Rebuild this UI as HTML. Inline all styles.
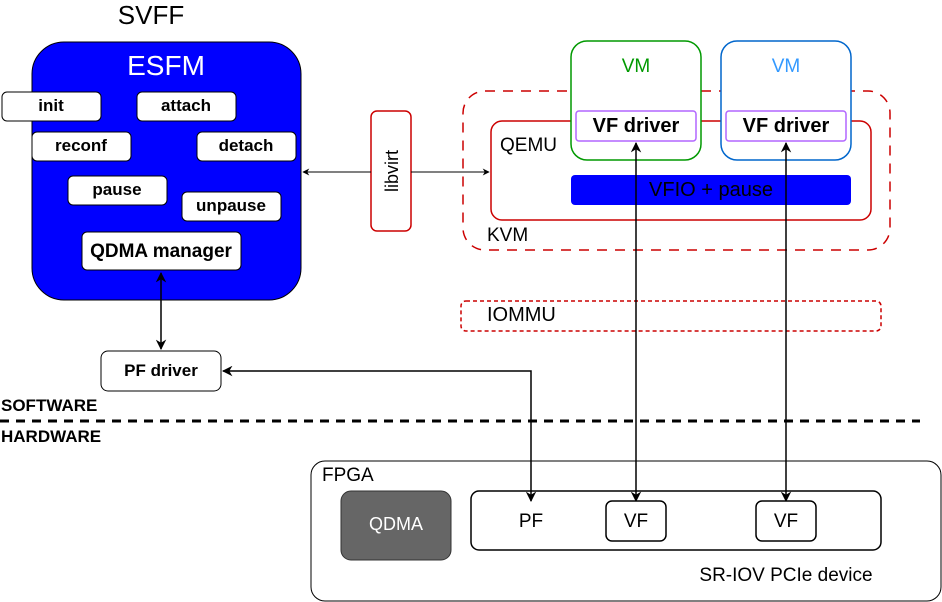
<!DOCTYPE html>
<html><head><meta charset="utf-8"><style>html,body{margin:0;padding:0;background:#fff}svg{display:block}text{font-family:"Liberation Sans",sans-serif}</style></head>
<body>
<svg width="942" height="602" viewBox="0 0 942 602" xmlns="http://www.w3.org/2000/svg">
<defs>
<marker id="a" viewBox="0 0 10 10" refX="9" refY="5" markerWidth="7" markerHeight="7" orient="auto-start-reverse"><path d="M0,0 L10,5 L0,10 L3,5 z" fill="#000"/></marker>
</defs>
<text x="151" y="24" font-size="26" text-anchor="middle">SVFF</text>
<rect x="32" y="42" width="269" height="258" rx="32" fill="#0000FF" stroke="#000"/>
<text x="166" y="75" font-size="28" fill="#fff" text-anchor="middle">ESFM</text>
<g fill="#fff" stroke="#000" stroke-width="1">
<rect x="2" y="92" width="99" height="29" rx="5"/>
<rect x="137" y="92" width="99" height="29" rx="5"/>
<rect x="32" y="132" width="99" height="29" rx="5"/>
<rect x="197" y="132" width="99" height="29" rx="5"/>
<rect x="68" y="176" width="99" height="29" rx="5"/>
<rect x="182" y="192" width="99" height="29" rx="5"/>
<rect x="82" y="232" width="159" height="38" rx="5"/>
</g>
<g font-size="17" font-weight="bold" text-anchor="middle">
<text x="51" y="111">init</text>
<text x="186" y="111">attach</text>
<text x="81" y="151">reconf</text>
<text x="246" y="151">detach</text>
<text x="117" y="195">pause</text>
<text x="231" y="211">unpause</text>
<text x="161" y="257" font-size="19">QDMA manager</text>
</g>
<rect x="463" y="91" width="427" height="159" rx="22" fill="none" stroke="#CC0000" stroke-width="1.5" stroke-dasharray="10,8"/>
<text x="487" y="241" font-size="19">KVM</text>
<rect x="491" y="121" width="380" height="99" rx="11" fill="none" stroke="#CC0000" stroke-width="1.5"/>
<text x="500" y="151" font-size="19">QEMU</text>
<rect x="571" y="41" width="130" height="119" rx="16" fill="#fff" stroke="#009900" stroke-width="1.5"/>
<text x="636" y="72" font-size="19" fill="#009900" text-anchor="middle">VM</text>
<rect x="721" y="41" width="130" height="119" rx="16" fill="#fff" stroke="#0066CC" stroke-width="1.5"/>
<text x="786" y="72" font-size="19" fill="#3399FF" text-anchor="middle">VM</text>
<rect x="576" y="111" width="120" height="30" rx="3" fill="#fff" stroke="#B266FF" stroke-width="1.5"/>
<rect x="726" y="111" width="120" height="30" rx="3" fill="#fff" stroke="#B266FF" stroke-width="1.5"/>
<text x="636" y="132" font-size="20" font-weight="bold" text-anchor="middle">VF driver</text>
<text x="786" y="132" font-size="20" font-weight="bold" text-anchor="middle">VF driver</text>
<rect x="571" y="175" width="280" height="30" rx="4" fill="#0000FF"/>
<text x="711" y="196" font-size="20" fill="#000" text-anchor="middle">VFIO + pause</text>
<rect x="461" y="301" width="420" height="30" rx="5" fill="none" stroke="#CC0000" stroke-width="1.5" stroke-dasharray="4,3"/>
<text x="487" y="321" font-size="20">IOMMU</text>
<rect x="371" y="111" width="40" height="120" rx="6" fill="#fff" stroke="#CC0000" stroke-width="1.5"/>
<text transform="translate(398,171) rotate(-90)" font-size="18" text-anchor="middle">libvirt</text>
<line x1="371" y1="172" x2="303" y2="172" stroke="#000" marker-end="url(#a)"/>
<line x1="411" y1="172" x2="489" y2="172" stroke="#000" marker-end="url(#a)"/>
<rect x="101" y="351" width="120" height="40" rx="7" fill="#fff" stroke="#000"/>
<text x="161" y="376" font-size="17" font-weight="bold" text-anchor="middle">PF driver</text>
<line x1="161" y1="273" x2="161" y2="349" stroke="#000" stroke-width="1.5" marker-start="url(#a)" marker-end="url(#a)"/>
<polyline points="223,371 531,371 531,501" fill="none" stroke="#000" stroke-width="1.5" marker-start="url(#a)" marker-end="url(#a)"/>
<line x1="636" y1="143" x2="636" y2="501" stroke="#000" stroke-width="1.5" marker-start="url(#a)" marker-end="url(#a)"/>
<line x1="786" y1="143" x2="786" y2="501" stroke="#000" stroke-width="1.5" marker-start="url(#a)" marker-end="url(#a)"/>
<text x="1" y="411" font-size="17" font-weight="bold">SOFTWARE</text>
<line x1="0" y1="421" x2="920" y2="421" stroke="#000" stroke-width="3" stroke-dasharray="9,7"/>
<text x="1" y="442" font-size="17" font-weight="bold">HARDWARE</text>
<rect x="311" y="461" width="630" height="140" rx="14" fill="none" stroke="#000"/>
<text x="322" y="481" font-size="19">FPGA</text>
<rect x="341" y="491" width="110" height="69" rx="10" fill="#666" stroke="#333"/>
<text x="396" y="530" font-size="18" fill="#fff" text-anchor="middle">QDMA</text>
<rect x="471" y="491" width="410" height="59" rx="8" fill="none" stroke="#000" stroke-width="1.5"/>
<text x="531" y="527" font-size="19" text-anchor="middle">PF</text>
<rect x="606" y="501" width="60" height="40" rx="6" fill="#fff" stroke="#000" stroke-width="1.5"/>
<rect x="756" y="501" width="60" height="40" rx="6" fill="#fff" stroke="#000" stroke-width="1.5"/>
<text x="636" y="527" font-size="19" text-anchor="middle">VF</text>
<text x="786" y="527" font-size="19" text-anchor="middle">VF</text>
<text x="786" y="581" font-size="19" text-anchor="middle">SR-IOV PCIe device</text>
</svg>
</body></html>
